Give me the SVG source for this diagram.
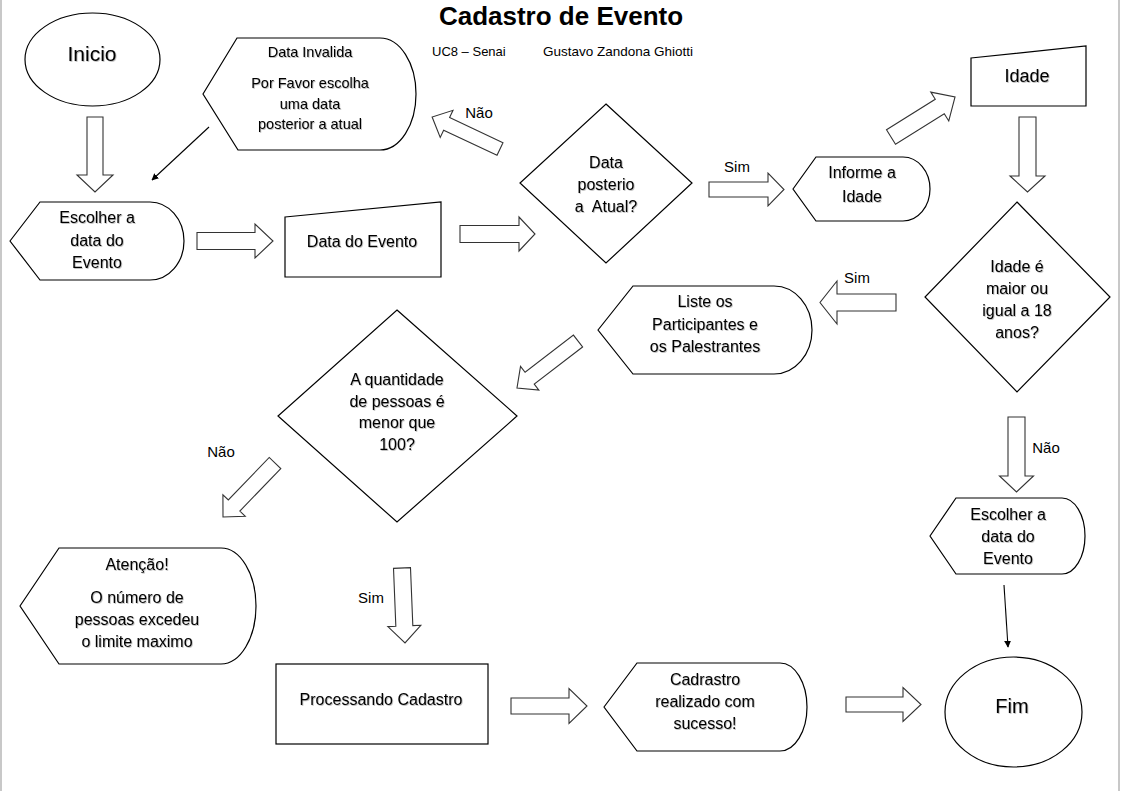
<svg xmlns="http://www.w3.org/2000/svg" width="1122" height="791" viewBox="0 0 1122 791">
<style>
.shape{fill:#fff;stroke:#000;stroke-width:1.2}
.blk{fill:#fff;stroke:#333;stroke-width:1.1}
.thin{fill:none;stroke:#000;stroke-width:1.1}
text{font-family:"Liberation Sans",Arial,sans-serif;fill:#000}
.t{font-size:16px;text-anchor:middle;filter:url(#sh)}
.s{font-size:14.5px;text-anchor:middle;filter:url(#sh)}
.lbl{font-size:15px;text-anchor:middle}
</style>
<defs>
<filter id="sh" x="-10%" y="-30%" width="130%" height="170%">
<feDropShadow dx="0.8" dy="0.8" stdDeviation="0.4" flood-color="#000" flood-opacity="0.3"/>
</filter>
<marker id="ah" viewBox="0 0 10 10" refX="9" refY="5" markerWidth="7" markerHeight="7" markerUnits="userSpaceOnUse" orient="auto">
<path d="M0,0 L10,5 L0,10 Z" fill="#000"/>
</marker>
</defs>
<rect width="1122" height="791" fill="#fff"/>
<line x1="1" y1="0" x2="1" y2="791" stroke="#c8c8c8" stroke-width="2"/>
<line x1="1119" y1="0" x2="1119" y2="791" stroke="#c8c8c8" stroke-width="2"/>

<text x="561" y="25" font-size="26" font-weight="bold" text-anchor="middle">Cadastro de Evento</text>
<text x="432" y="56" font-size="13">UC8 – Senai</text>
<text x="543" y="56" font-size="13.5">Gustavo Zandona Ghiotti</text>

<g id="connectors">
<polygon class="blk" transform="translate(95,117) rotate(90)" points="0,-8 58,-8 58,-18 75,0 58,18 58,8 0,8"/>
<polygon class="blk" transform="translate(197,241)" points="0,-8.5 58,-8.5 58,-17 76,0 58,17 58,8.5 0,8.5"/>
<polygon class="blk" transform="translate(460,234)" points="0,-8.5 59,-8.5 59,-17 75,0 59,17 59,8.5 0,8.5"/>
<polygon class="blk" transform="translate(709,189.5)" points="0,-7.5 59,-7.5 59,-16.5 75,0 59,16.5 59,7.5 0,7.5"/>
<polygon class="blk" transform="translate(500,149) rotate(205.2)" points="0,-7 59,-7 59,-15 75,0 59,15 59,7 0,7"/>
<polygon class="blk" transform="translate(891,137) rotate(-32)" points="0,-8.5 57.5,-8.5 57.5,-17 75.5,0 57.5,17 57.5,8.5 0,8.5"/>
<polygon class="blk" transform="translate(1027.5,117) rotate(90)" points="0,-8.5 59,-8.5 59,-17.5 75,0 59,17.5 59,8.5 0,8.5"/>
<polygon class="blk" transform="translate(896,302.5) rotate(180)" points="0,-8.5 59,-8.5 59,-21.5 76,0 59,21.5 59,8.5 0,8.5"/>
<polygon class="blk" transform="translate(578,341) rotate(142.4)" points="0,-7.5 61,-7.5 61,-15 77,0 61,15 61,7.5 0,7.5"/>
<polygon class="blk" transform="translate(275,463) rotate(133.9)" points="0,-8 59,-8 59,-15.5 75,0 59,15.5 59,8 0,8"/>
<polygon class="blk" transform="translate(402,568) rotate(87.7)" points="0,-8.5 58,-8.5 58,-16.5 75,0 58,16.5 58,8.5 0,8.5"/>
<polygon class="blk" transform="translate(511,706)" points="0,-8 58,-8 58,-17.5 76,0 58,17.5 58,8 0,8"/>
<polygon class="blk" transform="translate(846,704.5)" points="0,-7.5 57,-7.5 57,-17 75,0 57,17 57,7.5 0,7.5"/>
<polygon class="blk" transform="translate(1016.5,417) rotate(90)" points="0,-8.5 59,-8.5 59,-17 75,0 59,17 59,8.5 0,8.5"/>
<line class="thin" x1="209" y1="127" x2="152" y2="180" marker-end="url(#ah)"/>
<line class="thin" x1="1004" y1="585" x2="1008" y2="647" marker-end="url(#ah)"/>
<text class="lbl" x="737" y="172">Sim</text>
<text class="lbl" x="479" y="118">Não</text>
<text class="lbl" x="857" y="283">Sim</text>
<text class="lbl" x="221" y="457">Não</text>
<text class="lbl" x="371" y="603">Sim</text>
<text class="lbl" x="1046" y="453">Não</text>
</g>

<g id="inicio">
<ellipse class="shape" cx="92.5" cy="59.5" rx="67.5" ry="46.5"/>
<text x="92" y="61" font-size="21" text-anchor="middle" filter="url(#sh)">Inicio</text>
</g>

<g id="data-invalida">
<path class="shape" d="M203,94 L237,38 L380,38 A36,56 0 0 1 380,150 L238,150 Z"/>
<text class="s" x="310" y="57">Data Invalida</text>
<text class="s" x="310" y="88">Por Favor escolha</text>
<text class="s" x="310" y="109">uma data</text>
<text class="s" x="310" y="129">posterior a atual</text>
</g>

<g id="escolher-data">
<path class="shape" d="M10,241 L40,202 L150,202 A34,39 0 0 1 150,280 L40,280 Z"/>
<text class="t" x="97" y="223">Escolher a</text>
<text class="t" x="97" y="246">data do</text>
<text class="t" x="97" y="268">Evento</text>
</g>

<g id="data-evento">
<polygon class="shape" points="285,217 441,202 441,277 285,277"/>
<text class="t" x="362" y="247">Data do Evento</text>
</g>

<g id="data-posterior">
<polygon class="shape" points="606,104 692,183 606,263 520,183"/>
<text class="t" x="606" y="168">Data</text>
<text class="t" x="606" y="190">posterio</text>
<text class="t" x="606" y="212" xml:space="preserve">a  Atual?</text>
</g>

<g id="informe-idade">
<path class="shape" d="M793,189 L816,157 L903,157 A27,32 0 0 1 903,221 L816,221 Z"/>
<text class="t" x="862" y="178">Informe a</text>
<text class="t" x="862" y="202">Idade</text>
</g>

<g id="idade">
<polygon class="shape" points="971,58 1086,46 1086,106 971,106"/>
<text x="1027" y="82" font-size="18" text-anchor="middle" filter="url(#sh)">Idade</text>
</g>

<g id="idade-maior">
<polygon class="shape" points="1017,202 1110,297 1017,392 925,297"/>
<text class="t" x="1017" y="272">Idade é</text>
<text class="t" x="1017" y="294">maior ou</text>
<text class="t" x="1017" y="316">igual a 18</text>
<text class="t" x="1017" y="338">anos?</text>
</g>

<g id="liste">
<path class="shape" d="M598,330 L633,286 L774,286 A38,44 0 0 1 774,374 L633,374 Z"/>
<text class="t" x="705" y="307">Liste os</text>
<text class="t" x="705" y="330">Participantes e</text>
<text class="t" x="705" y="352">os Palestrantes</text>
</g>

<g id="quantidade">
<polygon class="shape" points="397,310 517,416 397,522 278,416"/>
<text class="t" x="397" y="385">A quantidade</text>
<text class="t" x="397" y="407">de pessoas é</text>
<text class="t" x="397" y="428">menor que</text>
<text class="t" x="397" y="450">100?</text>
</g>

<g id="atencao">
<path class="shape" d="M20,606 L59,548 L221,548 A35,58 0 0 1 221,664 L59,664 Z"/>
<text class="t" x="137" y="570">Atenção!</text>
<text class="t" x="137" y="603">O número de</text>
<text class="t" x="137" y="625">pessoas excedeu</text>
<text class="t" x="137" y="647">o limite maximo</text>
</g>

<g id="processando">
<rect class="shape" x="276" y="664" width="212" height="80"/>
<text class="t" x="381" y="705">Processando Cadastro</text>
</g>

<g id="cadrastro">
<path class="shape" d="M604,707 L637,663 L780,663 A27,44 0 0 1 780,751 L637,751 Z"/>
<text class="t" x="705" y="685">Cadrastro</text>
<text class="t" x="705" y="707">realizado com</text>
<text class="t" x="705" y="729">sucesso!</text>
</g>

<g id="escolher-data-2">
<path class="shape" d="M930,536 L956,498 L1062,498 A23,38 0 0 1 1062,574 L956,574 Z"/>
<text class="t" x="1008" y="520">Escolher a</text>
<text class="t" x="1008" y="542">data do</text>
<text class="t" x="1008" y="564">Evento</text>
</g>

<g id="fim">
<ellipse class="shape" cx="1013.5" cy="712" rx="68.5" ry="55"/>
<text x="1012" y="713" font-size="20" text-anchor="middle" filter="url(#sh)">Fim</text>
</g>
</svg>
